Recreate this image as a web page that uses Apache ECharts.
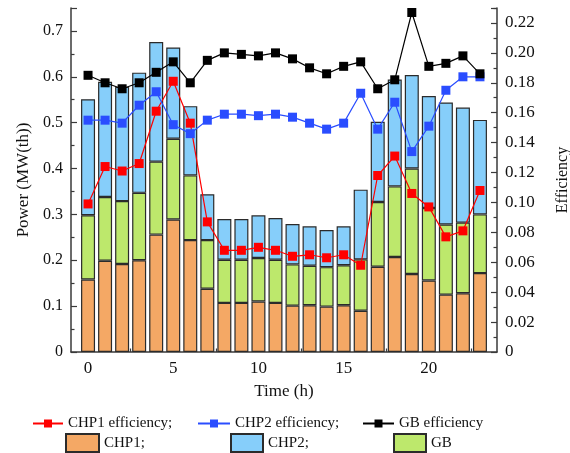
<!DOCTYPE html>
<html>
<head>
<meta charset="utf-8">
<script src="https://cdn.jsdelivr.net/npm/echarts@6/dist/echarts.min.js"></script>
<style>
  html, body { margin: 0; padding: 0; background: #fff; }
  #chart { width: 570px; height: 453px; }
</style>
</head>
<body>
<div id="chart"></div>
<script>
// Hourly heat output (MW(th)) of each unit and unit efficiencies
const hours = [0,1,2,3,4,5,6,7,8,9,10,11,12,13,14,15,16,17,18,19,20,21,22,23];
const chp1Power = [0.158,0.199,0.192,0.200,0.256,0.289,0.244,0.138,0.107,0.107,0.110,0.107,0.101,0.102,0.099,0.102,0.090,0.186,0.207,0.170,0.156,0.125,0.128,0.172];
const gbPower   = [0.140,0.139,0.137,0.147,0.159,0.176,0.141,0.106,0.094,0.094,0.095,0.094,0.090,0.086,0.086,0.087,0.112,0.141,0.154,0.230,0.158,0.153,0.154,0.128];
const chp2Power = [0.253,0.251,0.249,0.262,0.261,0.199,0.151,0.100,0.089,0.089,0.093,0.091,0.088,0.086,0.081,0.085,0.152,0.175,0.233,0.204,0.244,0.266,0.251,0.206];
const chp1Eff = [0.099,0.124,0.121,0.126,0.161,0.181,0.153,0.087,0.068,0.068,0.070,0.068,0.064,0.065,0.063,0.065,0.058,0.118,0.131,0.106,0.097,0.077,0.081,0.108];
const chp2Eff = [0.155,0.155,0.153,0.165,0.174,0.152,0.146,0.155,0.159,0.159,0.158,0.159,0.157,0.153,0.149,0.153,0.173,0.149,0.167,0.134,0.151,0.175,0.184,0.184];
const gbEff   = [0.185,0.180,0.176,0.180,0.187,0.194,0.180,0.195,0.200,0.199,0.198,0.200,0.196,0.190,0.186,0.191,0.194,0.176,0.182,0.227,0.191,0.193,0.198,0.186];
// one empty hour slot on each side of the day
const timeSlots = ['-1', ...hours.map(String), '24'];
const xLabelStep = 5;
const xMinorValues = [2.5, 7.5, 12.5, 17.5, 22.5];

const names = {
  chp1Eff: 'CHP1 efficiency;',
  chp2Eff: 'CHP2 efficiency;',
  gbEff: 'GB efficiency',
  chp1: 'CHP1;',
  chp2: 'CHP2;',
  gb: 'GB'
};

const FONT = "'Liberation Serif', 'Times New Roman', serif";
const AXIS_COLOR = '#3a3a3a';
const pairs = (vals) => hours.map((h, i) => [String(h), vals[i]]);
const onLabelStep = (idx, value) => Number(value) >= 0 && Number(value) % xLabelStep === 0;

const chart = echarts.init(document.getElementById('chart'), null, { renderer: 'canvas' });

const barStyle = (color) => ({ color: color, borderColor: '#2b2b2b', borderWidth: 1.2 });
const barSeries = (name, vals, color) => ({
  name: name, type: 'bar', stack: 'power', xAxisIndex: 0, yAxisIndex: 0,
  barWidth: 14, data: pairs(vals), itemStyle: barStyle(color)
});
const lineSeries = (name, vals, color) => ({
  name: name, type: 'line', xAxisIndex: 0, yAxisIndex: 1,
  data: pairs(vals), symbol: 'rect', symbolSize: 9,
  lineStyle: { color: color, width: 1.2 },
  itemStyle: { color: color },
  z: 5
});

const legendBase = {
  orient: 'horizontal', padding: 0, itemGap: 0,
  textStyle: { fontFamily: FONT, fontSize: 15, color: '#111' }
};

chart.setOption({
  animation: false,
  backgroundColor: '#fff',
  grid: { left: 71, right: 73, top: 8, bottom: 101, containLabel: false, outerBoundsMode: 'none' },
  legend: [
    Object.assign({}, legendBase, { data: [names.chp1Eff], left: 32, top: 416, itemWidth: 30, itemHeight: 10 }),
    Object.assign({}, legendBase, { data: [names.chp2Eff], left: 197, top: 416, itemWidth: 32, itemHeight: 10 }),
    Object.assign({}, legendBase, { data: [names.gbEff], left: 362, top: 416, itemWidth: 31, itemHeight: 10 }),
    Object.assign({}, legendBase, { data: [names.chp1], icon: 'rect', left: 65, top: 433, itemWidth: 33, itemHeight: 18 }),
    Object.assign({}, legendBase, { data: [names.chp2], icon: 'rect', left: 230, top: 433, itemWidth: 32, itemHeight: 18 }),
    Object.assign({}, legendBase, { data: [names.gb], icon: 'rect', left: 393, top: 433, itemWidth: 32, itemHeight: 18 })
  ],
  xAxis: [
    {
      // hour slots carrying bars and lines, with labels every five hours
      type: 'category', data: timeSlots, boundaryGap: false, position: 'bottom',
      name: 'Time (h)', nameLocation: 'middle', nameGap: 31,
      nameTextStyle: { fontFamily: FONT, fontSize: 17, color: '#111' },
      axisLine: { show: true, onZero: false, lineStyle: { color: AXIS_COLOR, width: 1.5 } },
      axisTick: { show: true, inside: true, length: 6, interval: onLabelStep, lineStyle: { color: AXIS_COLOR, width: 1.2 } },
      axisLabel: { interval: onLabelStep, fontFamily: FONT, fontSize: 17, color: '#111', margin: 8 },
      splitLine: { show: false }
    },
    {
      // half-way minor ticks
      type: 'value', min: -1, max: 24, position: 'bottom', offset: 0,
      axisLine: { show: false, onZero: false },
      axisTick: { show: true, inside: true, length: 3.5, customValues: xMinorValues, lineStyle: { color: AXIS_COLOR, width: 1.2 } },
      axisLabel: { show: false },
      splitLine: { show: false }
    }
  ],
  yAxis: [
    {
      type: 'value', min: 0, max: 0.75, interval: 0.1, position: 'left',
      name: 'Power (MW(th))', nameLocation: 'middle', nameGap: 38, nameRotate: 90,
      nameTextStyle: { fontFamily: FONT, fontSize: 17, color: '#111' },
      axisLine: { show: true, onZero: false, lineStyle: { color: AXIS_COLOR, width: 1.5 } },
      axisTick: { show: true, inside: true, length: 6, lineStyle: { color: AXIS_COLOR, width: 1.2 } },
      minorTick: { show: true, splitNumber: 2, length: 3.5, lineStyle: { color: AXIS_COLOR, width: 1.2 } },
      axisLabel: { showMaxLabel: false, fontFamily: FONT, fontSize: 16, color: '#111', margin: 8 },
      splitLine: { show: false }
    },
    {
      type: 'value', min: 0, max: 0.23, interval: 0.02, position: 'right',
      name: 'Efficiency', nameLocation: 'middle', nameGap: 58, nameRotate: 90,
      nameTextStyle: { fontFamily: FONT, fontSize: 16, color: '#111' },
      axisLine: { show: true, onZero: false, lineStyle: { color: AXIS_COLOR, width: 1.5 } },
      axisTick: { show: true, inside: true, length: 6, lineStyle: { color: AXIS_COLOR, width: 1.2 } },
      minorTick: { show: true, splitNumber: 2, length: 3.5, lineStyle: { color: AXIS_COLOR, width: 1.2 } },
      axisLabel: {
        showMaxLabel: false, fontFamily: FONT, fontSize: 17, color: '#111', margin: 8,
        formatter: (v) => (v === 0 ? '0' : v.toFixed(2))
      },
      splitLine: { show: false }
    }
  ],
  series: [
    barSeries(names.chp1, chp1Power, '#F4A865'),
    barSeries(names.gb, gbPower, '#BDE86C'),
    barSeries(names.chp2, chp2Power, '#86CEFA'),
    lineSeries(names.chp1Eff, chp1Eff, '#FF0000'),
    lineSeries(names.chp2Eff, chp2Eff, '#2A4DFF'),
    lineSeries(names.gbEff, gbEff, '#000000')
  ]
});
</script>
</body>
</html>
